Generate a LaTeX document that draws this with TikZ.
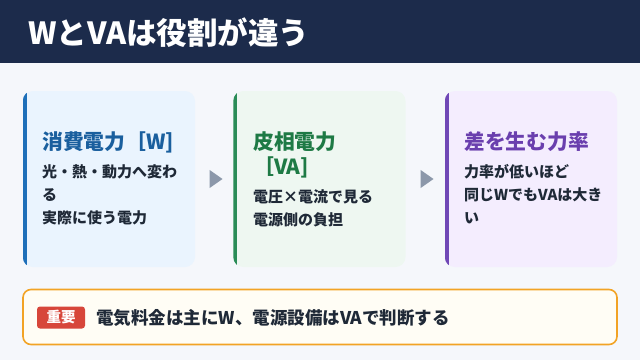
\documentclass[tikz,border=0pt]{standalone}
\usepackage{fontspec}
\setmainfont{Noto Sans CJK JP}
\usetikzlibrary{shapes.geometric,calc}
\definecolor{hdr}{HTML}{1C2B4B}
\definecolor{bg}{HTML}{F5F7FB}
\definecolor{bodytxt}{HTML}{1F2937}
\definecolor{cAfill}{HTML}{EAF4FE}
\definecolor{cAacc}{HTML}{1E6FB9}
\definecolor{cAtit}{HTML}{1A5F9E}
\definecolor{cBfill}{HTML}{EEF7F1}
\definecolor{cBacc}{HTML}{2A8C57}
\definecolor{cBtit}{HTML}{1E7A45}
\definecolor{cCfill}{HTML}{F4EDFE}
\definecolor{cCacc}{HTML}{7048B6}
\definecolor{cCtit}{HTML}{6A3FAE}
\definecolor{arr}{HTML}{8C98AA}
\definecolor{notefill}{HTML}{FFFDF5}
\definecolor{noteline}{HTML}{F2A325}
\definecolor{badge}{HTML}{D7463A}
\tikzset{
  card/.style={rectangle, rounded corners=10pt, minimum width=172pt, minimum height=176pt, inner sep=0pt, draw=none},
  cardtitle/.style={anchor=west, inner sep=0pt, font=\bfseries\fontsize{20.8}{24}\selectfont},
  bodyline/.style={anchor=west, inner sep=0pt, text=bodytxt, font=\bfseries\fontsize{15}{18}\selectfont},
  flowarrow/.style={isosceles triangle, isosceles triangle apex angle=70, fill=arr, inner sep=0pt, minimum height=13pt, minimum width=16pt, draw=none},
}
\begin{document}
\begin{tikzpicture}[x=1pt,y=-1pt]
\useasboundingbox (0,0) rectangle (640,360);
\fill[bg] (0,0) rectangle (640,360);
\fill[hdr] (0,0) rectangle (640,63);
\node[anchor=west, inner sep=0pt, text=white, font=\bfseries\fontsize{30.5}{34}\selectfont] (title) at (28,33) {WとVAは役割が違う};

% cards
\foreach \nm/\cx/\fl/\ac in {cardA/109/cAfill/cAacc, cardB/319.5/cBfill/cBacc, cardC/531/cCfill/cCacc}{
  \node[card, fill=\fl] (\nm) at (\cx,179) {};
  \begin{scope}
    \clip[rounded corners=10pt] (\nm.north west) rectangle (\nm.south east);
    \fill[\ac] (\nm.north west) rectangle ([xshift=4pt]\nm.south west);
  \end{scope}
}

\node[cardtitle, text=cAtit] (tA) at (42,142) {消費電力［W]};
\node[bodyline] (a1) at (42,172) {光・熱・動力へ変わ};
\node[bodyline] (a2) at (42,195) {る};
\node[bodyline] (a3) at (42,218) {実際に使う電力};

\node[cardtitle, text=cBtit] (tB1) at (253,142) {皮相電力};
\node[cardtitle, text=cBtit] (tB2) at (253,167) {［VA]};
\node[bodyline] (b1) at (253,197) {電圧×電流で見る};
\node[bodyline] (b2) at (253,220) {電源側の負担};

\node[cardtitle, text=cCtit] (tC) at (464,142) {差を生む力率};
\node[bodyline] (c1) at (464,172) {力率が低いほど};
\node[bodyline] (c2) at (464,195) {同じWでもVAは大き};
\node[bodyline] (c3) at (464,218) {い};

\node[flowarrow] (arr1) at ($(cardA.east)!0.5!(cardB.west)$) {};
\node[flowarrow] (arr2) at ($(cardB.east)!0.5!(cardC.west)$) {};

% note box
\node[rectangle, rounded corners=8pt, draw=noteline, line width=1.6pt, fill=notefill, minimum width=594pt, minimum height=55pt, inner sep=0pt] (note) at (320,317) {};
\node[rectangle, rounded corners=3pt, fill=badge, text=white, inner sep=0pt, minimum width=48pt, minimum height=22pt, font=\bfseries\fontsize{14.5}{16}\selectfont] (badge) at (61,317.5) {重要};
\node[anchor=west, inner sep=0pt, text=bodytxt, font=\bfseries\fontsize{17.5}{20}\selectfont] (notetext) at (96,318) {電気料金は主にW、電源設備はVAで判断する};
\end{tikzpicture}
\end{document}
